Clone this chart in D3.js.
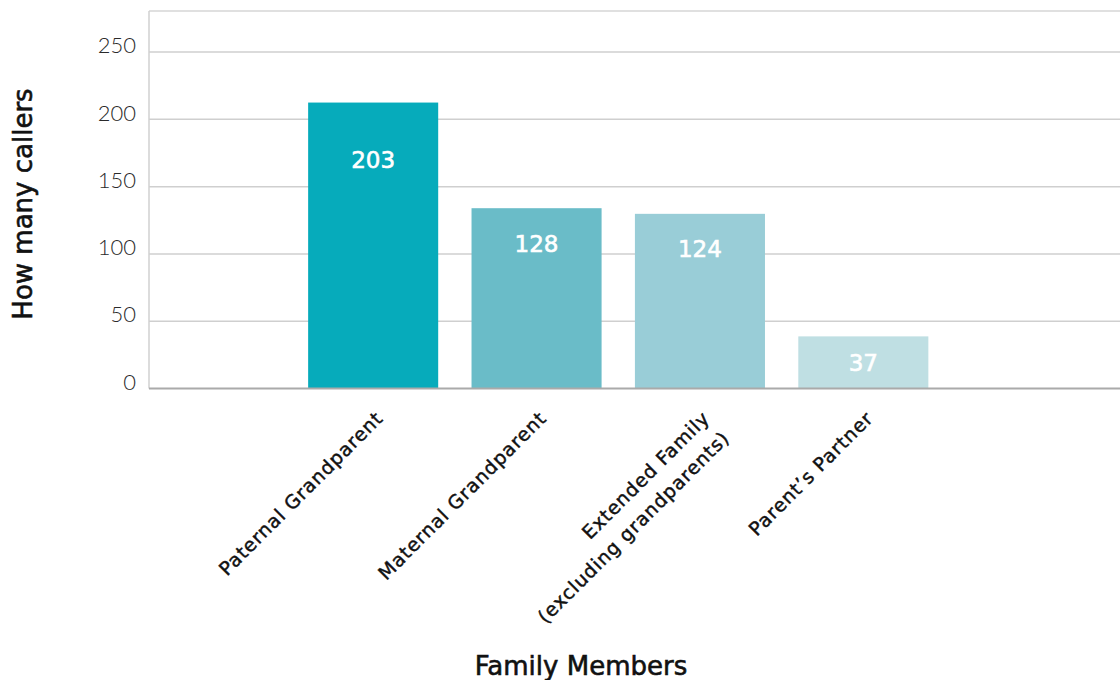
<!DOCTYPE html>
<html>
<head>
<meta charset="utf-8">
<script src="https://cdn.jsdelivr.net/npm/d3@7"></script>
<style>
  html, body { margin: 0; padding: 0; background: #fff; }
  svg { display: block; font-family: "DejaVu Sans", sans-serif; }
  .tick-label { font-family: "Lato", sans-serif; font-size: 22px; font-weight: 300; fill: #2a2a2a; }
  .cat-label { font-size: 19px; letter-spacing: 0.9px; fill: #111; stroke: #111; stroke-width: 0.45px; }
  .value-label { font-size: 23px; fill: #fff; stroke: #fff; stroke-width: 0.6px; }
  .axis-title { font-size: 26px; fill: #111; stroke: #111; stroke-width: 0.6px; }
</style>
</head>
<body>
<svg id="chart" width="1120" height="680"></svg>
<script>
const categories = [
    ["Paternal Grandparent"],
    ["Maternal Grandparent"],
    ["Extended Family", "(excluding grandparents)"],
    ["Parent\u2019s Partner"]
];
const callers = [203, 128, 124, 37];
const yTicks = [0, 50, 100, 150, 200, 250];
const barColors = ["#06abbb", "#6abcc8", "#99cdd7", "#bfdfe3"];

const plotLeft = 149, plotRight = 1120, plotTop = 11, base = 388.5;

const svg = d3.select("#chart");

// axis scale (gridlines) and bar scale - the source graphic draws bars a bit taller than its grid
const y = d3.scaleLinear().domain([0, 280.5]).range([base, plotTop]);
const yBar = d3.scaleLinear().domain([0, 268]).range([base, plotTop]);

const keys = categories.map(c => c.join(" "));
const x = d3.scaleBand()
    .domain(keys)
    .range([plotLeft, 1087.5])
    .paddingInner(0.204)
    .paddingOuter(0.974);

// grid
svg.append("g")
    .selectAll("line")
    .data(yTicks.filter(d => d > 0))
    .enter().append("line")
    .attr("x1", plotLeft).attr("x2", plotRight)
    .attr("y1", d => y(d)).attr("y2", d => y(d))
    .attr("stroke", "#cfcfcf").attr("stroke-width", 1.5);

// frame top + left
svg.append("line")
    .attr("x1", plotLeft).attr("x2", plotRight)
    .attr("y1", plotTop).attr("y2", plotTop)
    .attr("stroke", "#d6d6d6").attr("stroke-width", 1.5);
svg.append("line")
    .attr("x1", plotLeft).attr("x2", plotLeft)
    .attr("y1", plotTop).attr("y2", base)
    .attr("stroke", "#d0d0d0").attr("stroke-width", 1.5);

// y tick labels
svg.append("g")
    .selectAll("text")
    .data(yTicks)
    .enter().append("text")
    .attr("class", "tick-label")
    .attr("x", 136)
    .attr("y", d => y(d) - 6.5)
    .attr("dy", "0.35em")
    .attr("text-anchor", "end")
    .text(d => d);

// bars
svg.append("g")
    .selectAll("rect")
    .data(callers)
    .enter().append("rect")
    .attr("x", (d, i) => x(keys[i]))
    .attr("width", x.bandwidth())
    .attr("y", d => yBar(d))
    .attr("height", d => base - yBar(d))
    .attr("fill", (d, i) => barColors[i]);

// baseline
svg.append("line")
    .attr("x1", plotLeft).attr("x2", plotRight)
    .attr("y1", base).attr("y2", base)
    .attr("stroke", "#aaa").attr("stroke-width", 2);

// value labels
svg.append("g")
    .selectAll("text")
    .data(callers)
    .enter().append("text")
    .attr("class", "value-label")
    .attr("x", (d, i) => x(keys[i]) + x.bandwidth() / 2)
    .attr("y", d => yBar(d) + Math.max((base - yBar(d)) * 0.2, 27))
    .attr("dy", "0.35em")
    .attr("text-anchor", "middle")
    .text(d => d);

// category labels, rotated
const cat = svg.append("g")
    .selectAll("text")
    .data(categories)
    .enter().append("text")
    .attr("class", "cat-label")
    .attr("text-anchor", "end")
    .attr("transform", (d, i) =>
        `translate(${x(keys[i]) + x.bandwidth() / 2 + 11},${base + 31}) rotate(-45)`);
cat.selectAll("tspan")
    .data(d => d)
    .enter().append("tspan")
    .attr("x", 0)
    .attr("dy", (d, j) => j === 0 ? 0 : 28)
    .text(d => d);

// axis titles
svg.append("text")
    .attr("class", "axis-title")
    .attr("transform", "translate(31.5,204) rotate(-90)")
    .attr("text-anchor", "middle")
    .text("How many callers");

svg.append("text")
    .attr("class", "axis-title")
    .attr("x", 581)
    .attr("y", 675)
    .attr("text-anchor", "middle")
    .text("Family Members");
</script>
</body>
</html>
